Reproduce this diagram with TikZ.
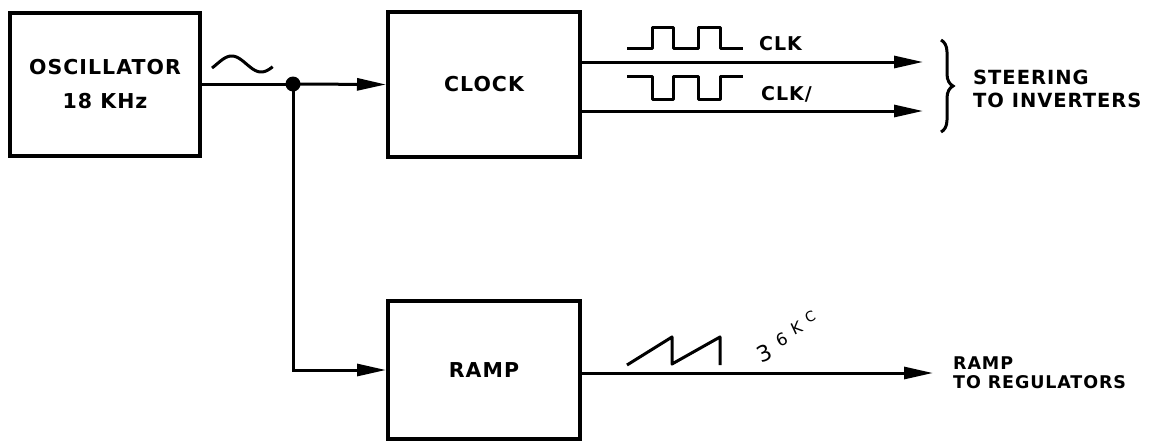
\documentclass[tikz,border=0pt]{standalone}
\usepackage{fontspec}
\setmainfont{DejaVu Sans}
\newfontfamily\lett[LetterSpace=5]{DejaVu Sans}
\newfontfamily\hand{DejaVu Sans}
\usetikzlibrary{arrows.meta,decorations.pathreplacing}
\begin{document}
\begin{tikzpicture}[x=1pt,y=-1pt,
  blk/.style={draw,line width=4pt,minimum width=190pt,inner sep=0pt,align=center,
    font=\lett\bfseries\fontsize{20.5}{34}\selectfont},
  wire/.style={line width=3pt},
  arr/.style={wire,-{Triangle[length=29pt,width=12pt]}},
  wave/.style={line width=3pt,line join=round},
  lbl/.style={font=\lett\bfseries\fontsize{19}{23}\selectfont,inner sep=0pt,align=left},
  outl/.style={font=\lett\bfseries\fontsize{19.5}{23}\selectfont,inner sep=0pt,align=left,anchor=west}]
\useasboundingbox (0,0) rectangle (1150,440);
\fill[white] (0,0) rectangle (1150,440);

% boxes
\node[blk,minimum height=143pt] (osc) at (105,84) {OSCILLATOR\\18 KHz};
\node[blk,minimum width=192pt,minimum height=145pt] (clock) at (484,84.5) {CLOCK};
\node[blk,minimum width=192pt,minimum height=138pt] (ramp) at (484,370) {RAMP};

% junction
\coordinate (dot) at (293,84);
\fill (dot) circle (7.5pt);
\draw[wire] (osc.east) -- (dot);
\draw[arr] (dot) -- (clock.west);
\draw[arr] (dot) |- (ramp.west);

% clock outputs
\coordinate (clkend) at (923,62);
\coordinate (clknend) at (923,111);
\draw[arr] (clock.east |- clkend) -- (clkend);
\draw[arr] (clock.east |- clknend) -- (clknend);

% ramp output
\coordinate (rampend) at (933,373);
\draw[arr] (ramp.east |- rampend) -- (rampend);

% sine wave
\draw[wave] plot[domain=-30:340,samples=50,smooth] ({212+(\x+30)/6.1},{64-8*sin(\x)});

% square waves
\draw[wave] (627,48) -- (652,48) -- (652,27) -- (673,27) -- (673,48) -- (698,48) -- (698,27) -- (720,27) -- (720,48) -- (743,48);
\draw[wave] (627,76) -- (652,76) -- (652,99) -- (673,99) -- (673,76) -- (698,76) -- (698,99) -- (720,99) -- (720,76) -- (743,76);
\node[lbl,anchor=west] (clk) at (759,44) {CLK};
\node[lbl,anchor=west] (clkn) at (761,94) {CLK/};

% sawtooth
\draw[wave] (627,365) -- (672,337) -- (672,364) -- (720,337) -- (720,365);
\node[font=\hand\fontsize{22}{22}\selectfont,inner sep=0pt,anchor=base west] (freq) at (754,363)
  {\rotatebox{25}{3}\raisebox{16pt}{\fontsize{17}{17}\selectfont\rotatebox{25}{6}}\raisebox{28pt}{\fontsize{16}{16}\selectfont\rotatebox{25}{K}}\raisebox{40pt}{\fontsize{14}{14}\selectfont\rotatebox{25}{C}}};

% brace and outputs
\draw[line width=3pt,decorate,decoration={brace,amplitude=12pt}] (941,40) -- (941,132);
\node[outl] (steer) at (973,88.5) {STEERING\\TO INVERTERS};
\node[outl,font=\lett\bfseries\fontsize{17.5}{19}\selectfont] (rout) at (953,373) {RAMP\\TO REGULATORS};
\end{tikzpicture}
\end{document}
